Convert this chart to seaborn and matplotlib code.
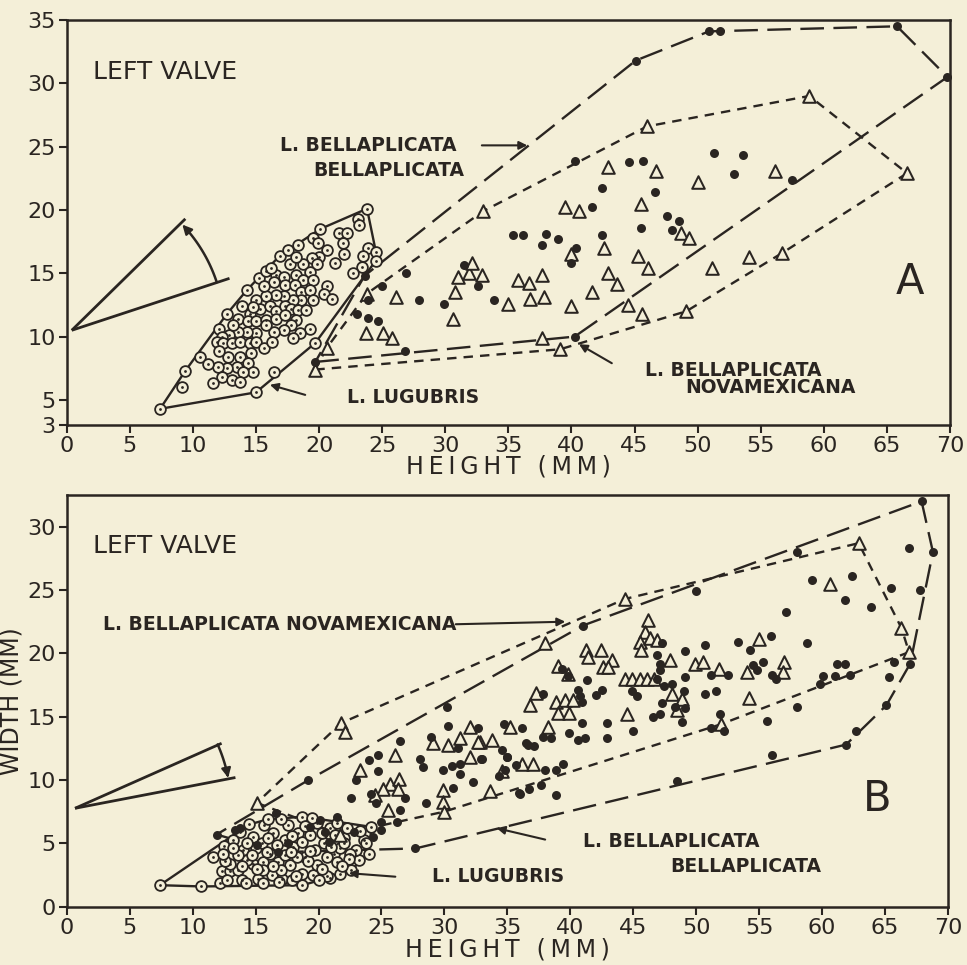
import numpy as np
import pandas as pd
import matplotlib
matplotlib.use("Agg")
import matplotlib.pyplot as plt
import seaborn as sns

# ---------------- DATA (height mm, second measure mm) ----------------
# Panel A: distance between beaks vs height
A_LUGUBRIS = [
    (7.4, 4.3), (9.1, 6.0), (9.4, 7.3), (10.6, 8.4), (12.1, 10.6), (12.7, 11.8), (14.3, 13.7),
    (15.2, 14.6), (15.8, 15.2), (16.9, 16.4), (17.5, 16.8), (18.3, 17.2), (19.5, 17.8), (20.1, 18.5),
    (21.6, 18.2), (22.2, 18.2), (23.1, 19.3), (23.2, 18.8), (23.8, 20.1), (23.9, 17.0), (24.5, 16.7),
    (24.5, 16.0), (23.5, 16.4), (23.4, 15.5), (22.7, 15.0), (22.0, 16.5), (21.9, 17.4), (21.3, 15.8),
    (20.6, 16.8), (20.6, 14.0), (20.4, 13.4), (21.0, 13.0), (19.7, 9.5), (16.4, 7.2), (15.0, 5.6),
    (19.9, 17.4), (20.0, 16.3), (19.4, 16.2), (19.8, 15.7), (18.7, 15.7), (19.3, 15.1), (18.2, 14.9),
    (18.7, 14.5), (19.5, 14.5), (16.6, 14.9), (17.2, 14.7), (16.4, 14.3), (17.3, 14.1), (18.1, 14.1),
    (18.6, 13.5), (19.3, 13.7), (19.5, 12.9), (18.6, 12.9), (17.9, 12.9), (17.2, 13.2), (16.6, 13.3),
    (15.8, 13.2), (15.0, 12.9), (15.3, 12.2), (16.1, 12.4), (16.6, 12.0), (17.3, 12.4), (17.8, 12.2),
    (18.3, 12.1), (19.0, 12.1), (14.5, 11.8), (13.6, 11.4), (14.4, 11.2), (15.0, 11.2), (15.8, 11.3),
    (16.6, 11.4), (17.3, 11.7), (18.2, 11.3), (19.3, 10.6), (18.5, 10.3), (17.8, 10.9), (17.2, 10.5),
    (16.4, 10.4), (15.8, 10.9), (15.0, 10.3), (14.3, 10.4), (13.6, 10.4), (12.9, 10.1), (12.3, 10.0),
    (11.9, 9.6), (12.4, 9.5), (13.1, 9.5), (13.7, 9.6), (14.5, 9.5), (15.0, 9.6), (15.6, 9.1),
    (14.6, 8.7), (13.7, 8.4), (12.8, 8.4), (12.1, 8.9), (13.5, 7.6), (14.4, 7.9), (14.8, 7.2),
    (14.0, 7.2), (12.7, 7.5), (12.0, 7.6), (12.3, 6.8), (13.1, 6.6), (13.7, 6.4), (11.6, 6.3),
    (16.2, 15.4), (17.7, 15.7), (18.2, 16.3), (15.6, 14.0), (14.8, 12.3), (13.9, 12.4), (13.2, 10.9),
    (16.3, 9.6), (17.9, 9.9), (11.2, 7.8),
]
A_BELLAPLICATA = [
    (23.6, 14.8), (25.0, 14.0), (26.9, 15.0), (23.9, 12.9), (23.0, 11.8), (23.9, 11.5), (24.7, 11.25),
    (27.9, 12.9), (29.9, 12.6), (31.5, 15.65), (32.6, 14.0), (19.7, 8.0), (26.8, 8.9), (45.1, 31.8),
    (50.9, 34.1), (51.8, 34.1), (65.8, 34.5), (69.8, 30.5), (40.3, 23.9), (44.6, 23.8), (45.65, 23.9),
    (51.3, 24.5), (53.6, 24.3), (52.9, 22.8), (57.5, 22.4), (42.4, 21.7), (46.6, 21.4), (41.65, 20.2),
    (47.6, 19.5), (48.5, 19.1), (47.95, 18.4), (45.5, 18.6), (35.4, 18.0), (36.2, 18.0), (38.0, 18.1),
    (37.7, 17.2), (38.9, 17.7), (42.4, 18.0), (40.4, 17.0), (40.0, 15.8), (33.9, 12.9), (40.25, 10.0),
]
A_NOVAMEXICANA = [
    (23.8, 13.4), (26.1, 13.15), (23.7, 10.25), (25.1, 10.3), (25.8, 9.9), (20.6, 9.1), (19.7, 7.4),
    (30.6, 11.4), (30.75, 13.5), (31.0, 14.7), (31.9, 15.0), (32.1, 15.8), (58.85, 29.0), (46.0, 26.6),
    (33.0, 19.9), (66.6, 22.9), (42.9, 23.4), (46.7, 23.1), (50.0, 22.2), (56.1, 23.1), (39.5, 20.25),
    (40.6, 19.9), (45.5, 20.5), (48.7, 18.15), (49.3, 17.8), (42.6, 17.0), (40.0, 16.5), (45.3, 16.4),
    (46.05, 15.4), (42.9, 15.0), (43.6, 14.15), (32.9, 14.9), (35.8, 14.5), (36.6, 14.25), (37.7, 14.9),
    (35.0, 12.6), (36.7, 13.0), (37.8, 13.1), (41.6, 13.5), (40.0, 12.4), (44.5, 12.5), (45.6, 11.75),
    (49.1, 12.0), (51.1, 15.4), (54.05, 16.3), (56.7, 16.6), (37.7, 9.9), (39.1, 9.0),
]

# Panel B: width vs height
B_LUGUBRIS = [
    (7.4, 1.7), (10.7, 1.6), (11.6, 3.95), (15.7, 6.45), (18.7, 7.1), (24.2, 6.3), (23.2, 3.7),
    (20.9, 2.3), (18.7, 1.7), (12.2, 1.85), (16.4, 5.8), (17.6, 6.45), (18.4, 5.8), (19.9, 6.6),
    (20.9, 6.2), (23.0, 4.5), (12.3, 2.8), (13.0, 2.8), (13.6, 2.9), (14.0, 4.5), (15.0, 4.6),
    (14.8, 3.4), (15.6, 3.55), (16.15, 4.2), (16.8, 3.55), (17.3, 4.1), (18.0, 4.7), (18.7, 5.1),
    (18.9, 3.95), (19.7, 4.5), (20.4, 5.0), (21.2, 4.2), (21.7, 4.6), (22.5, 4.2), (12.7, 2.1),
    (13.9, 2.1), (15.2, 2.2), (16.3, 2.5), (17.1, 2.2), (17.9, 2.1), (18.7, 2.6), (19.6, 2.5),
    (20.65, 2.4), (14.8, 5.5), (15.5, 5.0), (17.3, 5.3), (16.7, 4.9), (19.3, 5.7), (20.3, 5.8),
    (14.3, 3.7), (17.7, 3.3), (13.6, 4.1), (13.0, 3.4), (19.9, 3.3), (21.45, 3.55), (17.0, 2.9),
    (15.6, 2.9), (18.3, 3.95), (13.8, 5.9), (14.2, 1.85), (15.6, 1.85), (16.9, 1.95), (20.0, 2.1),
    (22.4, 3.8), (23.6, 5.3), (22.0, 5.4),
    (12.5, 4.8), (13.2, 5.3), (14.5, 6.5), (16.0, 6.9), (17.0, 6.9), (19.5, 7.0), (21.5, 6.6),
    (22.3, 6.2), (23.3, 6.0), (23.8, 5.0), (24.0, 4.2), (22.6, 2.9), (21.7, 2.6), (21.9, 3.2),
    (20.3, 3.0), (19.2, 3.6), (18.2, 2.4), (16.4, 3.2), (15.1, 3.0), (13.9, 3.2), (12.6, 3.6),
    (12.4, 4.2), (14.7, 4.1), (15.9, 4.3), (17.8, 4.3), (19.3, 4.4), (20.7, 3.9), (21.0, 4.7),
    (22.0, 5.0), (16.0, 5.4), (17.9, 5.6), (18.9, 6.4), (21.3, 5.7), (14.3, 5.0), (13.2, 4.6),
]
B_BELLAPLICATA = [
    (11.9, 5.7), (13.8, 6.2), (16.6, 7.4), (19.2, 10.0), (21.5, 7.06), (22.6, 8.6), (23.0, 10.0),
    (24.0, 11.6), (24.75, 12.0), (24.75, 10.7), (24.2, 8.9), (24.6, 8.2), (25.0, 6.7), (24.35, 5.5),
    (25.0, 6.05), (26.2, 6.7), (26.5, 7.6), (26.9, 8.6), (26.45, 13.1), (28.06, 11.7), (28.3, 11.05),
    (28.5, 8.2), (28.9, 13.4), (27.7, 4.6), (30.2, 15.8), (30.3, 14.3), (31.1, 12.5), (29.9, 10.8),
    (30.6, 11.1), (31.2, 11.25), (31.2, 10.5), (30.7, 9.4), (32.25, 9.85), (32.7, 14.1), (32.9, 11.7),
    (20.1, 6.85), (15.1, 4.9), (17.6, 5.0), (19.3, 6.3), (20.5, 5.9), (20.8, 5.1), (22.8, 5.9),
    (13.4, 6.05), (16.8, 4.3), (34.7, 14.4), (36.2, 14.1), (34.6, 12.4), (35.0, 11.8), (36.6, 12.8),
    (35.7, 11.2), (34.8, 10.8), (34.3, 10.3), (36.0, 8.9), (33.0, 11.7), (34.95, 11.8), (37.1, 12.7),
    (37.7, 9.6), (36.75, 9.3), (35.95, 8.95), (38.9, 8.8), (38.0, 10.8), (38.9, 10.8), (39.45, 11.3),
    (50.0, 24.9), (41.0, 22.2), (47.25, 20.8), (49.1, 20.2), (50.7, 20.7), (53.3, 20.9), (54.3, 20.3),
    (46.9, 19.9), (47.1, 19.2), (47.1, 18.7), (49.1, 18.1), (51.2, 18.3), (52.55, 18.3), (41.3, 17.9),
    (39.3, 18.8), (40.6, 17.1), (42.5, 17.1), (42.0, 16.7), (40.9, 16.2), (44.9, 17.0), (45.3, 16.6),
    (46.9, 18.0), (47.4, 17.4), (48.05, 17.6), (49.0, 17.0), (47.25, 16.1), (48.3, 15.8), (49.1, 15.65),
    (50.7, 16.8), (51.6, 17.0), (46.6, 15.0), (47.1, 15.2), (48.9, 14.6), (51.9, 15.2), (52.2, 13.9),
    (51.2, 14.1), (45.0, 13.9), (42.9, 14.5), (42.9, 13.3), (40.9, 14.5), (39.9, 13.7), (40.6, 13.15),
    (41.2, 13.3), (37.85, 13.4), (38.5, 13.3), (36.5, 12.9), (37.8, 16.8), (40.8, 16.6), (39.8, 18.2),
    (67.9, 32.0), (68.8, 28.0), (66.9, 28.3), (67.8, 25.0), (65.5, 25.2), (63.9, 23.7), (62.35, 26.1),
    (61.8, 24.2), (59.2, 25.8), (58.0, 28.0), (57.1, 23.3), (55.9, 21.4), (58.8, 20.8), (61.2, 19.2),
    (61.8, 19.2), (65.7, 19.3), (67.0, 19.2), (60.05, 18.2), (61.0, 18.2), (62.2, 18.3), (59.8, 17.6),
    (65.3, 18.1), (65.1, 15.9), (62.7, 13.9), (61.9, 12.8), (58.0, 15.8), (55.6, 14.7), (56.0, 12.0),
    (55.3, 19.3), (56.0, 18.3), (56.3, 18.0), (54.5, 19.1), (54.8, 18.7), (48.45, 9.9),
]
B_NOVAMEXICANA = [
    (44.35, 24.3), (62.9, 28.7), (60.6, 25.5), (66.3, 22.0), (66.9, 20.1), (46.2, 22.6), (45.9, 21.7),
    (45.5, 20.9), (46.3, 21.2), (46.9, 21.05), (45.6, 20.3), (41.25, 20.3), (42.4, 20.3), (41.4, 19.7),
    (43.3, 19.5), (42.6, 18.95), (43.0, 18.9), (39.05, 19.0), (39.85, 18.4), (44.35, 18.0), (44.9, 18.0),
    (45.5, 18.0), (46.1, 18.0), (46.65, 18.0), (47.9, 19.5), (49.9, 19.2), (50.5, 19.3), (51.8, 18.8),
    (55.0, 21.1), (54.0, 18.55), (57.0, 19.3), (56.9, 18.55), (54.2, 16.45), (48.05, 16.8), (48.85, 16.4),
    (48.5, 15.5), (51.95, 14.4), (44.5, 15.2), (37.3, 16.9), (36.8, 15.9), (38.9, 16.2), (39.6, 16.3),
    (40.2, 16.3), (39.05, 15.3), (39.9, 15.3), (38.25, 14.2), (35.2, 14.2), (33.8, 13.2), (32.8, 13.0),
    (36.2, 11.3), (37.0, 11.3), (38.0, 20.8), (33.6, 9.1), (21.8, 14.5), (22.1, 13.8), (23.3, 10.8),
    (26.1, 12.0), (25.7, 9.7), (26.4, 10.1), (25.15, 9.3), (26.3, 9.3), (24.5, 8.8), (25.55, 7.6),
    (29.1, 12.9), (30.3, 12.8), (31.2, 13.3), (32.0, 14.2), (32.7, 13.0), (32.0, 11.8), (29.9, 9.2),
    (29.9, 8.3), (29.97, 7.5), (34.6, 10.7), (15.1, 8.2), (21.7, 5.7),
]

X_TICKS = list(range(0, 75, 5))
A_Y_TICKS = [3, 5, 10, 15, 20, 25, 30, 35]
B_Y_TICKS = [0, 5, 10, 15, 20, 25, 30]

# angle sketches (origin, end of the two rays, arc radius, arc angles in degrees)
A_ANGLE = dict(origin=(0.4, 10.5), ray1=(9.4, 19.3), ray2=(12.9, 14.6), r=12.1, a0=18.3, a1=43.6)
B_ANGLE = dict(origin=(0.66, 7.77), ray1=(12.3, 12.9), ray2=(13.4, 10.2), r=12.4, a0=24.0, a1=11.2)

# ---------------- STYLE ----------------
BG = "#f4efd8"
INK = "#2a2521"

sns.set_theme(style="ticks")
plt.rcParams.update({
    "font.family": ["DejaVu Sans"],
    "axes.facecolor": BG, "figure.facecolor": BG, "savefig.facecolor": BG,
    "axes.edgecolor": INK, "axes.labelcolor": INK, "text.color": INK,
    "xtick.color": INK, "ytick.color": INK,
})

LONG_DASH = (0, (10, 4))
SHORT_DASH = (0, (4, 3))


def convex_hull(pts):
    p = sorted(set(pts))

    def cross(o, a, b):
        return (a[0] - o[0]) * (b[1] - o[1]) - (a[1] - o[1]) * (b[0] - o[0])

    lower, upper = [], []
    for q in p:
        while len(lower) >= 2 and cross(lower[-2], lower[-1], q) <= 0:
            lower.pop()
        lower.append(q)
    for q in reversed(p):
        while len(upper) >= 2 and cross(upper[-2], upper[-1], q) <= 0:
            upper.pop()
        upper.append(q)
    h = lower[:-1] + upper[:-1]
    h.append(h[0])
    return np.array(h)


def to_df(pts):
    return pd.DataFrame(pts, columns=["height", "value"])


def draw_panel(ax, lug, bel, nov, yticks, ylim):
    for pts, ls in ((lug, "-"), (bel, LONG_DASH), (nov, SHORT_DASH)):
        h = convex_hull(pts)
        ax.plot(h[:, 0], h[:, 1], color=INK, lw=1.7, linestyle=ls, zorder=2,
                solid_capstyle="butt", dash_capstyle="butt")
    d = to_df(lug)
    sns.scatterplot(data=d, x="height", y="value", ax=ax, marker="o", s=60,
                    color=BG, edgecolor=INK, linewidth=1.3, zorder=3, legend=False, clip_on=False)
    sns.scatterplot(data=d, x="height", y="value", ax=ax, marker="o", s=4,
                    color=INK, edgecolor=INK, linewidth=0, zorder=3.1, legend=False, clip_on=False)
    sns.scatterplot(data=to_df(nov), x="height", y="value", ax=ax, marker="^", s=82,
                    color=BG, edgecolor=INK, linewidth=1.45, zorder=3.3, legend=False, clip_on=False)
    sns.scatterplot(data=to_df(bel), x="height", y="value", ax=ax, marker="o", s=42,
                    color=INK, edgecolor=INK, linewidth=0, zorder=3.5, legend=False, clip_on=False)
    ax.set_xlim(0, 70)
    ax.set_ylim(*ylim)
    ax.set_xticks(X_TICKS)
    ax.set_yticks(yticks)
    ax.tick_params(axis="both", labelsize=16, width=1.5, length=6, pad=2, color=INK)
    for s in ax.spines.values():
        s.set_visible(True)
        s.set_linewidth(1.8)
        s.set_color(INK)


def draw_angle(ax, g):
    o = np.array(g["origin"])
    for end in (g["ray1"], g["ray2"]):
        ax.plot([o[0], end[0]], [o[1], end[1]], color=INK, lw=2.0, zorder=2, solid_capstyle="butt")
    t = np.radians(np.linspace(g["a0"], g["a1"], 40))
    ax_ = o[0] + g["r"] * np.cos(t)
    ay_ = o[1] + g["r"] * np.sin(t)
    ax.plot(ax_[:-3], ay_[:-3], color=INK, lw=1.8, zorder=2)
    ax.annotate("", xy=(ax_[-1], ay_[-1]), xytext=(ax_[-5], ay_[-5]),
                arrowprops=dict(arrowstyle="-|>", color=INK, lw=1.6, mutation_scale=14,
                                shrinkA=0, shrinkB=0))


def arrow(ax, tail, head):
    ax.annotate("", xy=head, xytext=tail,
                arrowprops=dict(arrowstyle="-|>", color=INK, lw=1.5, mutation_scale=12,
                                shrinkA=0, shrinkB=0))


fig = plt.figure(figsize=(9.67, 9.65), dpi=100)
axA = fig.add_axes([0.069, 0.5593, 0.9134, 0.4200])
axB = fig.add_axes([0.069, 0.0604, 0.9114, 0.4266])

draw_panel(axA, A_LUGUBRIS, A_BELLAPLICATA, A_NOVAMEXICANA, A_Y_TICKS, (3, 35))
draw_panel(axB, B_LUGUBRIS, B_BELLAPLICATA, B_NOVAMEXICANA, B_Y_TICKS, (0, 32.5))

xl = "\u2009".join("HEIGHT") + "\u2009 \u2009(\u2009M\u2009M\u2009)"
axA.set_xlabel(xl, fontsize=17, labelpad=-1)
axB.set_xlabel(xl, fontsize=17, labelpad=0)
axA.set_ylabel("")
axB.set_ylabel("WIDTH (MM)", fontsize=17, labelpad=3)

lab = dict(fontsize=13.5, fontweight="bold", va="center", ha="left", zorder=5)

# Panel A texts
axA.text(2.1, 30.9, "LEFT VALVE", fontsize=18, va="center", ha="left")
axA.text(16.9, 25.1, "L. BELLAPLICATA", **lab)
axA.text(19.5, 23.1, "BELLAPLICATA", **lab)
arrow(axA, (32.9, 25.1), (36.5, 25.1))
axA.text(22.2, 5.2, "L. LUGUBRIS", **lab)
arrow(axA, (18.9, 5.4), (16.1, 6.2))
axA.text(45.8, 7.35, "L. BELLAPLICATA", **lab)
axA.text(49.0, 6.0, "NOVAMEXICANA", **lab)
arrow(axA, (43.2, 7.9), (40.6, 9.4))
axA.text(66.8, 14.3, "A", fontsize=30, va="center", ha="center")
draw_angle(axA, A_ANGLE)

# Panel B texts
axB.text(2.1, 28.5, "LEFT VALVE", fontsize=18, va="center", ha="left")
axB.text(2.9, 22.25, "L. BELLAPLICATA NOVAMEXICANA", **lab)
arrow(axB, (30.9, 22.3), (39.6, 22.5))
axB.text(41.0, 5.15, "L. BELLAPLICATA", **lab)
axB.text(47.9, 3.2, "BELLAPLICATA", **lab)
arrow(axB, (38.0, 5.3), (34.15, 6.2))
axB.text(29.0, 2.35, "L. LUGUBRIS", **lab)
arrow(axB, (26.1, 2.37), (22.4, 2.65))
axB.text(64.4, 8.5, "B", fontsize=30, va="center", ha="center")
draw_angle(axB, B_ANGLE)

fig.savefig("out.png", dpi=100)
